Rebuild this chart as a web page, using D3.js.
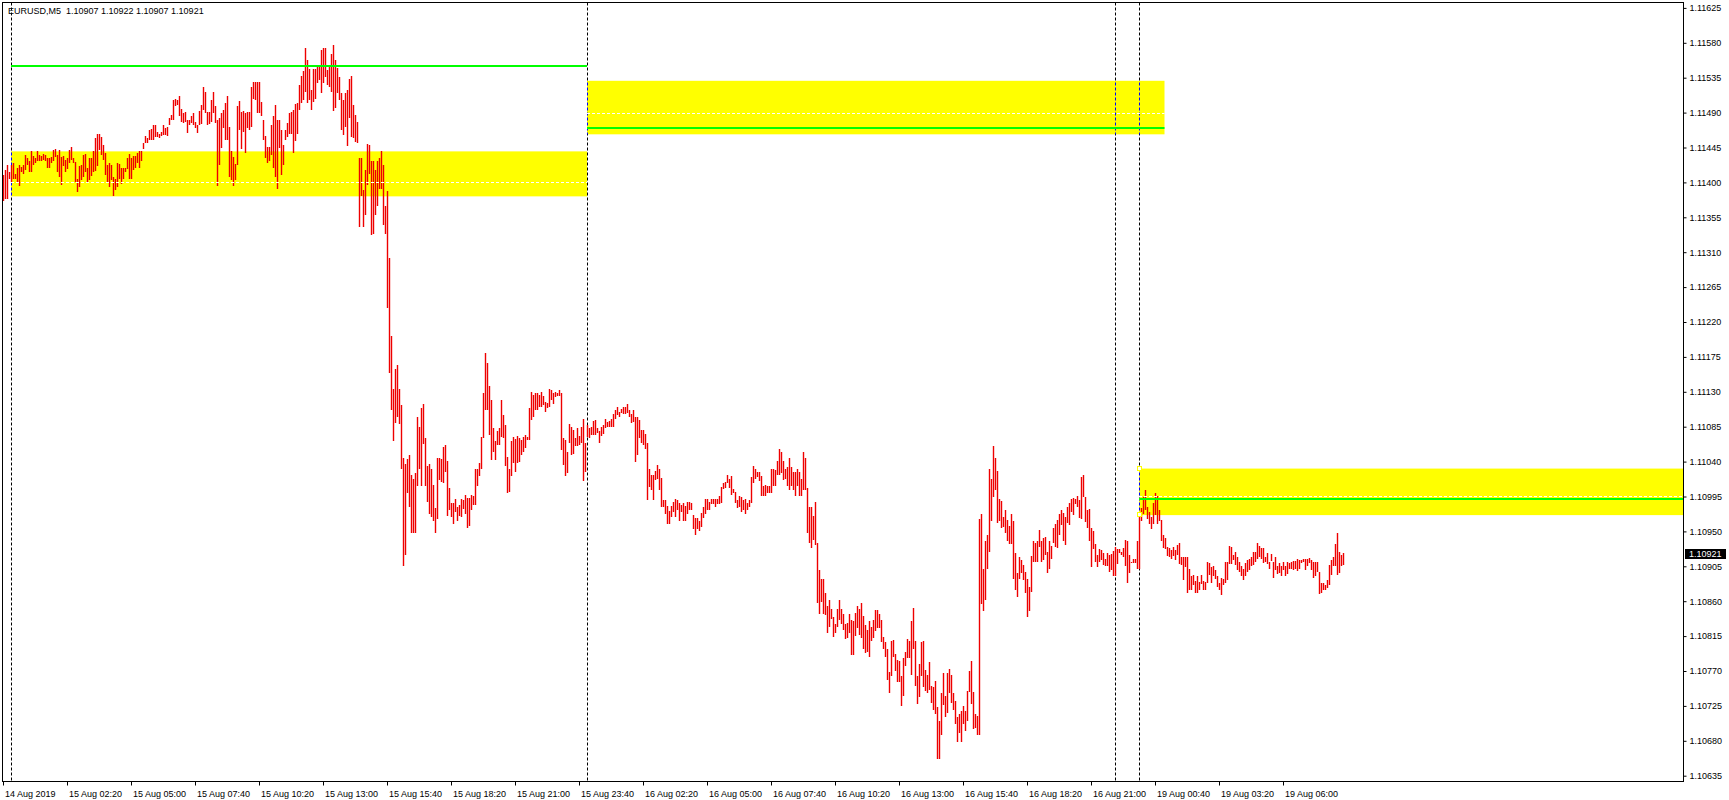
<!DOCTYPE html>
<html><head><meta charset="utf-8">
<script src="https://cdn.jsdelivr.net/npm/d3@7"></script>
<style>
html,body{margin:0;padding:0;background:#fff;overflow:hidden}
text{font-family:"Liberation Sans",Arial,sans-serif;font-size:9px;}
</style>
</head><body>
<svg id="chart" width="1729" height="800"></svg>
<script>
// ---------------- data ----------------
const chartTitle = "EURUSD,M5  1.10907 1.10922 1.10907 1.10921";
const priceBase = 1.1;          // bar values below are points above this
const pointSize = 0.00001;
// M5 bar highs (points above 1.10000), bar 0 = 14 Aug 23:40
const barHighPts = [
1410,1416,1422,1413,1422,1425,1411,1418,1422,1420,
1422,1435,1431,1427,1440,1434,1431,1440,1435,1434,
1436,1435,1431,1431,1433,1442,1443,1435,1442,1433,
1434,1429,1431,1442,1445,1432,1426,1405,1421,1422,
1435,1437,1418,1431,1431,1440,1457,1462,1462,1458,
1448,1438,1422,1425,1422,1407,1405,1425,1424,1418,
1419,1419,1431,1437,1431,1434,1434,1438,1440,1440,
1451,1460,1457,1467,1469,1474,1474,1465,1463,1465,
1474,1470,1472,1483,1487,1506,1508,1506,1511,1495,
1489,1491,1481,1480,1485,1489,1478,1474,1492,1500,
1523,1516,1491,1491,1506,1516,1498,1480,1483,1489,
1493,1502,1511,1472,1440,1433,1424,1498,1505,1491,
1492,1489,1491,1491,1523,1529,1529,1529,1529,1504,
1480,1460,1445,1445,1474,1486,1500,1480,1480,1468,
1448,1467,1477,1489,1491,1493,1501,1503,1526,1537,
1543,1573,1558,1546,1519,1546,1546,1549,1551,1571,
1573,1573,1545,1551,1566,1577,1558,1547,1536,1515,
1506,1515,1519,1533,1537,1500,1487,1478,1431,1431,
1390,1416,1450,1448,1427,1427,1416,1427,1431,1440,
1423,1370,1389,1302,1202,1133,1160,1165,1133,1113,
1044,1037,1043,1049,1023,1018,1025,1098,1085,1109,
1114,1070,1034,1037,1031,1010,980,1044,1044,1043,
1059,1061,1041,1006,987,986,992,982,984,992,
991,997,993,993,997,995,1031,1031,1038,1072,
1128,1180,1167,1137,1119,1083,1066,1079,1083,1119,
1100,1087,1046,1031,1067,1072,1069,1073,1070,1068,
1072,1074,1072,1109,1130,1126,1128,1128,1126,1130,
1125,1117,1116,1133,1132,1128,1130,1128,1132,1128,
1070,1068,1053,1089,1085,1081,1070,1083,1073,1085,
1095,1064,1087,1083,1085,1092,1094,1083,1079,1085,
1087,1095,1091,1092,1095,1102,1107,1110,1104,1108,
1111,1111,1114,1107,1102,1106,1098,1097,1094,1081,
1081,1076,1064,1031,1023,1023,1028,1036,1031,1019,
991,991,983,976,983,988,992,990,986,984,
986,983,988,988,986,971,967,967,963,974,
981,992,992,988,992,992,992,992,995,1007,
1012,1014,1023,1017,1021,1005,1001,991,996,994,
990,992,986,990,1020,1034,1030,1027,1027,1021,
1008,1010,1009,1008,1030,1031,1029,1041,1056,1053,
1041,1031,1033,1045,1033,1027,1027,1030,1027,1018,
1052,1045,1006,982,981,970,988,935,900,889,
888,870,854,862,850,840,831,850,862,850,
843,831,832,844,836,834,845,854,850,858,
841,829,823,834,827,836,849,849,843,836,
814,808,798,769,809,810,792,784,783,764,
787,795,811,809,834,851,809,764,779,807,
809,771,765,782,751,749,757,723,706,741,
767,738,767,773,765,742,731,711,715,718,
725,718,744,770,783,743,715,712,966,973,
901,937,945,1031,1018,1060,1044,1028,992,989,
969,978,965,957,972,963,922,897,917,913,
907,898,888,878,918,938,935,938,952,937,
941,943,923,937,931,955,960,965,972,978,
974,969,982,986,992,993,992,995,990,1020,
1023,994,978,979,954,950,934,920,927,926,
922,915,922,920,921,925,930,927,927,923,
928,939,938,920,911,915,914,938,973,980,
994,1004,981,975,968,986,999,996,978,965,
945,941,930,928,926,930,926,932,935,917,
917,917,917,901,892,894,886,892,885,894,
886,885,911,909,904,905,900,892,884,890,
889,911,911,931,930,920,924,917,911,905,
901,909,913,914,917,924,924,935,931,929,
929,917,922,911,921,910,917,905,909,905,
910,906,911,909,911,912,912,914,913,913,
914,915,914,916,913,911,911,910,898,884,
883,881,887,907,913,917,934,948,924,920,
922];
// M5 bar lows (points above 1.10000)
const barLowPts = [
1376,1379,1379,1405,1401,1405,1405,1401,1396,1414,
1411,1416,1422,1413,1413,1422,1425,1427,1428,1428,
1429,1428,1419,1419,1425,1427,1433,1413,1407,1397,
1421,1413,1417,1425,1429,1425,1400,1388,1394,1403,
1407,1414,1399,1403,1408,1414,1415,1421,1442,1435,
1429,1409,1399,1394,1403,1383,1390,1394,1405,1398,
1405,1414,1417,1404,1404,1416,1419,1425,1419,1427,
1443,1451,1451,1455,1455,1455,1459,1459,1457,1460,
1461,1461,1460,1474,1480,1480,1498,1500,1485,1478,
1476,1478,1464,1474,1476,1474,1470,1464,1474,1475,
1493,1489,1474,1475,1478,1489,1476,1395,1422,1444,
1470,1455,1455,1407,1403,1395,1403,1422,1468,1443,
1465,1438,1470,1468,1471,1508,1506,1489,1489,1485,
1455,1431,1425,1428,1435,1418,1407,1392,1444,1409,
1422,1455,1458,1463,1463,1438,1454,1463,1493,1502,
1506,1517,1502,1506,1493,1504,1508,1528,1532,1515,
1528,1536,1526,1523,1517,1492,1496,1515,1506,1468,
1461,1472,1447,1483,1458,1457,1452,1451,1343,1382,
1343,1358,1397,1411,1332,1334,1358,1369,1392,1392,
1345,1334,1238,1154,1107,1067,1090,1097,1089,1031,
906,920,999,981,948,948,948,1008,1031,1008,
1063,1008,988,973,969,963,948,966,1016,1014,
1013,1027,970,977,969,960,975,964,970,969,
979,973,955,957,978,984,984,1008,1021,1031,
1070,1107,1107,1074,1042,1053,1042,1061,1061,1072,
1070,1034,999,1001,1021,1038,1027,1038,1040,1049,
1053,1057,1068,1068,1093,1098,1107,1107,1111,1111,
1113,1104,1109,1110,1120,1114,1123,1124,1124,1055,
1036,1022,1025,1064,1049,1050,1060,1060,1061,1064,
1015,1027,1072,1070,1074,1074,1074,1077,1064,1073,
1076,1083,1084,1084,1084,1084,1095,1100,1098,1103,
1101,1101,1103,1097,1090,1091,1040,1049,1071,1064,
1061,1056,990,1007,1003,990,1016,1017,1003,982,
982,972,959,960,968,975,969,977,963,975,
964,964,972,978,978,953,946,953,950,956,
967,973,977,977,985,985,981,985,985,986,
1005,1006,1013,1006,997,999,986,980,982,975,
978,973,978,982,986,1012,1018,1020,1015,995,
995,995,999,999,999,1009,1008,1023,1023,1025,
1016,1018,1008,1003,1009,1003,995,1009,996,996,
1003,1003,948,935,928,939,933,858,844,859,
844,842,819,827,837,814,819,827,836,831,
823,811,812,819,791,791,815,826,816,813,
798,793,795,788,809,813,822,826,825,808,
798,788,759,742,764,788,770,756,756,725,
738,777,787,787,765,799,751,728,737,763,
750,744,742,745,729,720,714,657,657,687,
726,711,716,742,729,720,702,679,690,678,
702,693,705,743,728,695,696,687,688,856,
848,862,902,923,963,994,1003,961,964,955,
956,948,937,934,934,889,874,866,888,896,
887,871,840,848,872,910,910,910,930,911,
913,920,897,902,914,935,930,928,945,958,
937,933,961,958,975,971,985,982,967,966,
994,962,955,937,904,927,910,904,910,913,
907,905,905,898,900,893,892,908,922,920,
917,905,883,897,910,909,909,902,902,963,
972,977,966,959,953,960,971,959,963,938,
928,927,918,917,914,918,913,919,908,907,
887,904,870,875,874,881,870,870,875,882,
875,874,883,894,883,892,888,878,874,868,
881,884,887,908,908,913,907,900,898,893,
887,892,898,900,906,907,911,914,917,914,
909,911,908,902,912,890,900,895,897,892,
900,892,895,902,902,900,902,899,902,909,
910,900,906,909,900,890,893,898,869,870,
874,874,877,881,894,905,906,894,897,905,
907];
// time axis labels, one every 32 bars
const timeLabels = ["14 Aug 2019","15 Aug 02:20","15 Aug 05:00","15 Aug 07:40","15 Aug 10:20",
  "15 Aug 13:00","15 Aug 15:40","15 Aug 18:20","15 Aug 21:00","15 Aug 23:40","16 Aug 02:20",
  "16 Aug 05:00","16 Aug 07:40","16 Aug 10:20","16 Aug 13:00","16 Aug 15:40","16 Aug 18:20",
  "16 Aug 21:00","19 Aug 00:40","19 Aug 03:20","19 Aug 06:00"];
const timeLabelStep = 32;
// price axis labels
const priceTicks = [1.10635,1.10680,1.10725,1.10770,1.10815,1.10860,1.10905,1.10950,1.10995,
  1.11040,1.11085,1.11130,1.11175,1.11220,1.11265,1.11310,1.11355,1.11400,1.11445,1.11490,
  1.11535,1.11580,1.11625];
// vertical dashed separators (bar index)
const separatorBars = [4, 292, 556, 568];
// yellow zones
const zoneStart  = [4, 292, 568];
const zoneEnd    = [292, 580.75, 840];
const zoneTop    = [1.11440, 1.11531, 1.11031];
const zoneBottom = [1.11382, 1.11462, 1.10971];
const zoneMid    = [1.11400, 1.11490, 1.10995];
// green level lines
const levelStart = [4, 292, 568];
const levelEnd   = [292, 580.75, 840];
const levelPrice = [1.11550, 1.11470, 1.10992];
const lastPrice = 1.10921;

// ---------------- drawing ----------------
const svg = d3.select("#chart");
const plotL = 2.5, plotT = 2.5, plotR = 1683.5, plotB = 781.5;
const x = d3.scaleLinear().domain([0, 840]).range([3, 1683]);
const y = d3.scaleLinear().domain([1.10635, 1.11625]).range([775.7, 7.9]);
const toPrice = p => priceBase + p * pointSize;

svg.append("defs").append("clipPath").attr("id","plotClip")
  .append("rect").attr("x",3).attr("y",3).attr("width",plotR-3.5).attr("height",plotB-3.5);

const plot = svg.append("g").attr("clip-path","url(#plotClip)").style("isolation","isolate");

// white chart background (needed for the inverting separators)
plot.append("rect").attr("x",0).attr("y",0).attr("width",plotR).attr("height",plotB)
  .attr("fill","#ffffff");

// zones
plot.append("g").selectAll("rect").data(zoneStart).join("rect")
  .attr("x",(d,i)=>x(zoneStart[i]))
  .attr("width",(d,i)=>x(zoneEnd[i])-x(zoneStart[i]))
  .attr("y",(d,i)=>y(zoneTop[i]))
  .attr("height",(d,i)=>y(zoneBottom[i])-y(zoneTop[i]))
  .attr("fill","#ffff00");

// separators (inverting dashed lines: black on white, blue on yellow)
plot.append("g").selectAll("line").data(separatorBars).join("line")
  .attr("x1",d=>Math.round(x(d))+0.5).attr("x2",d=>Math.round(x(d))+0.5)
  .attr("y1",plotT).attr("y2",plotB)
  .attr("stroke","#ffffff").attr("stroke-width",1).attr("stroke-dasharray","3,2")
  .style("mix-blend-mode","difference");

// bars
const bars = barHighPts.map((h,i)=>({i, high: toPrice(h), low: toPrice(barLowPts[i])}));
plot.append("g").selectAll("rect").data(bars).join("rect")
  .attr("x",d=>Math.round(x(d.i)) - 0.2)
  .attr("width",1.4)
  .attr("y",d=>Math.round(y(d.high)))
  .attr("height",d=>Math.max(1, Math.round(y(d.low))-Math.round(y(d.high))))
  .attr("fill","#ee0000");

// zone mid dashed white lines
plot.append("g").selectAll("line").data(zoneMid).join("line")
  .attr("x1",(d,i)=>x(zoneStart[i])).attr("x2",(d,i)=>x(zoneEnd[i]))
  .attr("y1",d=>Math.round(y(d))+0.5).attr("y2",d=>Math.round(y(d))+0.5)
  .attr("stroke","#ffffff").attr("stroke-width",1).attr("stroke-dasharray","3,2");

// green level lines
plot.append("g").selectAll("line").data(levelPrice).join("line")
  .attr("x1",(d,i)=>x(levelStart[i])).attr("x2",(d,i)=>x(levelEnd[i]))
  .attr("y1",d=>Math.round(y(d))).attr("y2",d=>Math.round(y(d)))
  .attr("stroke","#00ff00").attr("stroke-width",2);

// anchor squares of the selected right zone
const sel = 2;
plot.append("g").selectAll("rect").data([zoneTop[sel], zoneBottom[sel]]).join("rect")
  .attr("x",x(zoneStart[sel])-1.5).attr("y",d=>Math.round(y(d))-2.5)
  .attr("width",4).attr("height",4)
  .attr("fill","#ffffff").attr("stroke","#ffff00").attr("stroke-width",1);

// frame
svg.append("rect").attr("x",plotL).attr("y",plotT)
  .attr("width",plotR-plotL).attr("height",plotB-plotT)
  .attr("fill","none").attr("stroke","#000").attr("stroke-width",1);

// price axis
const yAxis = d3.axisRight(y).tickValues(priceTicks).tickSize(3).tickPadding(3)
  .tickFormat(d3.format(".5f"));
svg.append("g").attr("transform",`translate(${plotR},0)`).call(yAxis)
  .call(g=>g.select(".domain").remove())
  .call(g=>g.selectAll("text").attr("fill","#000").style("font-size","9px")
      .style("font-family",'"Liberation Sans",Arial,sans-serif'))
  .call(g=>g.selectAll("line").attr("stroke","#000"));

// last price box
const lp = svg.append("g");
lp.append("rect").attr("x",plotR+1.5).attr("y",Math.round(y(lastPrice))-5)
  .attr("width",41).attr("height",10).attr("fill","#000");
lp.append("text").attr("x",plotR+5.5).attr("y",y(lastPrice)).attr("dy","0.32em")
  .attr("fill","#fff").text(d3.format(".5f")(lastPrice));

// time axis
const xAxis = d3.axisBottom(x).tickValues(timeLabels.map((_,k)=>k*timeLabelStep))
  .tickSize(4).tickFormat((d,k)=>timeLabels[k]);
svg.append("g").attr("transform",`translate(0,${plotB})`).call(xAxis)
  .call(g=>g.select(".domain").remove())
  .call(g=>g.selectAll("line").attr("stroke","#000"))
  .call(g=>g.selectAll("text").attr("text-anchor","start").attr("x",1.5).attr("y",9)
      .attr("fill","#000").style("font-size","9px")
      .style("font-family",'"Liberation Sans",Arial,sans-serif'));

// title
svg.append("text").attr("x",8).attr("y",14).attr("fill","#000")
  .style("white-space","pre").text(chartTitle);
</script>
</body></html>
